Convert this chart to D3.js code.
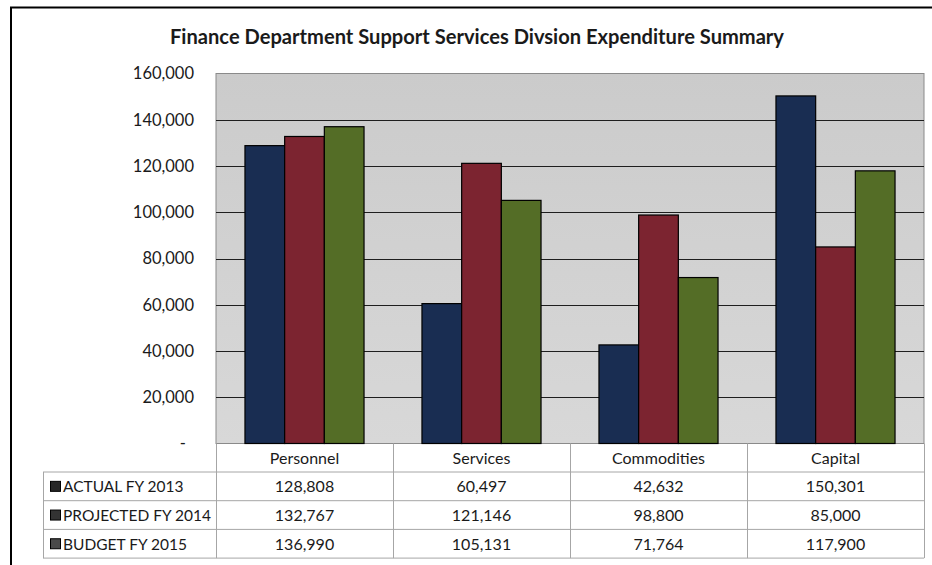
<!DOCTYPE html>
<html>
<head>
<meta charset="utf-8">
<script src="https://cdn.jsdelivr.net/npm/d3@7/dist/d3.min.js"></script>
<style>
  html, body { margin: 0; padding: 0; background: #fff; }
  svg { display: block; }
  text { font-family: Lato, "Open Sans", sans-serif; fill: #1a1a1a; }
</style>
</head>
<body>
<svg id="chart" width="932" height="565"></svg>
<script>
// Expenditure categories and the three fiscal-year series
const categories = ["Personnel", "Services", "Commodities", "Capital"];
const seriesNames = ["ACTUAL FY 2013", "PROJECTED FY 2014", "BUDGET FY 2015"];
const actualFY2013 = [128808, 60497, 42632, 150301];
const projectedFY2014 = [132767, 121146, 98800, 85000];
const budgetFY2015 = [136990, 105131, 71764, 117900];
const yTicks = [0, 20000, 40000, 60000, 80000, 100000, 120000, 140000, 160000];
const title = "Finance Department Support Services Divsion Expenditure Summary";

const seriesValues = [actualFY2013, projectedFY2014, budgetFY2015];
const seriesColors = ["#192d52", "#7c2430", "#546d26"];
const keyColors = ["#262626", "#333333", "#4a4a4a"];

const svg = d3.select("#chart");

// Outer frame (top and left edges)
svg.append("path")
  .attr("d", "M11,565 L11,7.5 L932,7.5")
  .attr("fill", "none").attr("stroke", "#000").attr("stroke-width", 2);

const plot = { left: 216, right: 924, top: 73.5, bottom: 443.5 };

const x0 = d3.scaleBand().domain(categories)
  .range([plot.left, plot.right]).paddingInner(0).paddingOuter(0);
const x1 = d3.scaleBand().domain(d3.range(seriesNames.length))
  .range([0, x0.bandwidth()]).paddingInner(0).paddingOuter(0.73);
const y = d3.scaleLinear().domain([0, 160000]).range([plot.bottom, plot.top]);

// Plot background with a soft vertical gradient
const defs = svg.append("defs");
const grad = defs.append("linearGradient").attr("id", "bg")
  .attr("x1", 0).attr("y1", 0).attr("x2", 0).attr("y2", 1);
grad.append("stop").attr("offset", "0%").attr("stop-color", "#cbcbcb");
grad.append("stop").attr("offset", "100%").attr("stop-color", "#d8d8d8");

svg.append("rect")
  .attr("x", plot.left).attr("y", plot.top)
  .attr("width", plot.right - plot.left).attr("height", plot.bottom - plot.top)
  .attr("fill", "url(#bg)").attr("stroke", "#8a8a8a").attr("stroke-width", 1);

// Horizontal gridlines
svg.append("g").selectAll("line")
  .data(yTicks.filter(t => t > 0 && t < 160000))
  .join("line")
  .attr("x1", plot.left).attr("x2", plot.right)
  .attr("y1", d => Math.round(y(d)) + 0.5).attr("y2", d => Math.round(y(d)) + 0.5)
  .attr("stroke", "#1e1e1e").attr("stroke-width", 1);

// Y axis labels (accounting style: zero shown as a dash)
const yAxis = d3.axisLeft(y).tickValues(yTicks).tickSize(0).tickPadding(0)
  .tickFormat(d => d === 0 ? "-" : d3.format(",")(d));
const yg = svg.append("g").attr("transform", "translate(194,0)").call(yAxis);
yg.select(".domain").remove();
yg.selectAll("text")
  .style("font-family", "Lato, sans-serif").style("font-size", "16.5px")
  .attr("fill", "#1a1a1a");
yg.selectAll(".tick").filter(d => d === 0).select("text").attr("dx", -8);

// Bars
const groups = svg.append("g").selectAll("g")
  .data(categories)
  .join("g")
  .attr("transform", d => `translate(${x0(d)},0)`);
groups.selectAll("rect")
  .data((c, ci) => seriesValues.map((vals, si) => ({ si, v: vals[ci] })))
  .join("rect")
  .attr("x", d => x1(d.si))
  .attr("width", x1.bandwidth())
  .attr("y", d => y(d.v))
  .attr("height", d => y(0) - y(d.v))
  .attr("fill", d => seriesColors[d.si])
  .attr("stroke", "#000").attr("stroke-width", 1.2);

// Data table beneath the plot
const rowTop = 443.5, headerH = 28.5, rowH = 28.7;
const tableLeft = 43;
const tg = svg.append("g");
const lineColor = "#a6a6a6";

// Horizontal table rules
d3.range(seriesNames.length + 1).forEach(i => {
  const yy = rowTop + headerH + i * rowH;
  tg.append("line").attr("x1", tableLeft).attr("x2", plot.right)
    .attr("y1", yy).attr("y2", yy).attr("stroke", lineColor);
});
// Vertical table rules
categories.forEach(c => {
  tg.append("line").attr("x1", x0(c) + 0.5).attr("x2", x0(c) + 0.5)
    .attr("y1", rowTop).attr("y2", rowTop + headerH + seriesNames.length * rowH)
    .attr("stroke", lineColor);
});
tg.append("line").attr("x1", plot.right + 0.5).attr("x2", plot.right + 0.5)
  .attr("y1", rowTop).attr("y2", rowTop + headerH + seriesNames.length * rowH)
  .attr("stroke", lineColor);
tg.append("line").attr("x1", tableLeft + 0.5).attr("x2", tableLeft + 0.5)
  .attr("y1", rowTop + headerH).attr("y2", rowTop + headerH + seriesNames.length * rowH)
  .attr("stroke", lineColor);

// Header labels
tg.selectAll("text.head").data(categories).join("text")
  .attr("class", "head")
  .attr("x", d => x0(d) + x0.bandwidth() / 2)
  .attr("y", rowTop + headerH / 2 + 6)
  .attr("text-anchor", "middle")
  .style("font-size", "16px")
  .text(d => d);

// Series rows: legend key, name and values
seriesNames.forEach((name, si) => {
  const cy = rowTop + headerH + si * rowH + rowH / 2;
  tg.append("rect")
    .attr("x", 50.5).attr("y", cy - 5).attr("width", 10).attr("height", 10)
    .attr("fill", keyColors[si]).attr("stroke", "#000");
  tg.append("text")
    .attr("x", 63).attr("y", cy + 6)
    .style("font-size", "15.5px")
    .text(name);
  tg.selectAll(null).data(categories).join("text")
    .attr("x", d => x0(d) + x0.bandwidth() / 2)
    .attr("y", cy + 6)
    .attr("text-anchor", "middle")
    .style("font-size", "16px")
    .text((d, ci) => d3.format(",")(seriesValues[si][ci]));
});

// Title
svg.append("text")
  .attr("x", 477).attr("y", 44)
  .attr("text-anchor", "middle")
  .attr("textLength", 614).attr("lengthAdjust", "spacingAndGlyphs")
  .style("font-size", "20px").style("font-weight", "bold")
  .text(title);
</script>
</body>
</html>
